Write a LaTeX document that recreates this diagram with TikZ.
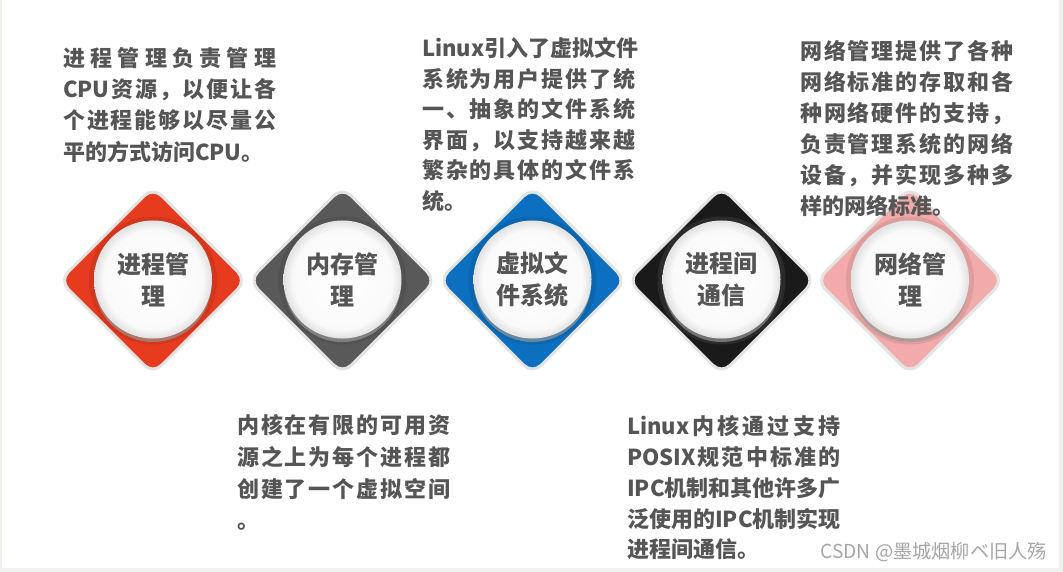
\documentclass[tikz,border=0pt]{standalone}
\usepackage{fontspec}
\newfontfamily\cjk{Noto Sans CJK SC}
\usetikzlibrary{shapes.geometric}
\definecolor{bgc}{HTML}{F0F0EC}
\definecolor{tx}{HTML}{555555}
\definecolor{lab}{HTML}{555555}
\definecolor{cred}{HTML}{E63B1F}
\definecolor{cgray}{HTML}{595959}
\definecolor{cblue}{HTML}{0C6FBF}
\definecolor{cblack}{HTML}{1A1A1A}
\definecolor{cpink}{HTML}{F2AAAA}
\definecolor{halo}{HTML}{E3E3E3}
\definecolor{wm}{HTML}{A6A6A6}
\definecolor{discedge}{HTML}{E4E4E4}
\pgfdeclareradialshading{discshade}{\pgfpoint{0bp}{0bp}}{color(0bp)=(white); color(21bp)=(white!98!black); color(24.5bp)=(discedge); color(50bp)=(discedge)}
\newlength\jw \setlength\jw{213pt}
\def\jlA#1{#1\futurelet\jlnext\jlB}
\def\jlB{\ifx\jlnext\relax\expandafter\jlEnd\else\hfil\expandafter\jlA\fi}
\def\jlEnd\relax{}
\newcommand\jl[1]{\hbox to\jw{\jlA#1\relax}}
\begin{document}
\begin{tikzpicture}[x=1pt,y=-1pt,
  blk/.style={font=\cjk\bfseries\fontsize{22}{#1}\selectfont, text=tx, anchor=north west, inner sep=0pt, align=left},
  dia/.style={diamond, aspect=1, minimum width=188pt, minimum height=188pt, inner sep=0pt, rounded corners=12pt, fill=#1, draw=halo, line width=3pt},
  glow/.style={circle, minimum size=128pt, inner sep=0pt, fill=#1, opacity=.08},
  shd/.style={circle, minimum size=117pt, inner sep=0pt, fill=black!40, opacity=.65},
  disc/.style={circle, minimum size=118pt, inner sep=0pt, shading=discshade, font=\cjk\bfseries\fontsize{24}{32}\selectfont, text=lab, align=center},
]
\useasboundingbox (0,0) rectangle (1063,572);
\fill[bgc] (0,0) rectangle (1063,572);
\fill[white] (2,0) rectangle (1059,567.5);

% diamonds
\node[dia=cred]   (d1) at (153,280.5) {};
\node[dia=cgray]  (d2) at (342.5,280.5) {};
\node[dia=cblue]  (d3) at (532.5,280.5) {};
\node[dia=cblack] (d4) at (721.5,280.5) {};
\node[dia=cpink]  (d5) at (910,280.5) {};

\node[glow=black] (g1) at (d1) {};
\node[glow=black] (g2) at (d2) {};
\node[glow=black] (g3) at (d3) {};
\node[glow=white] (g4) at (d4) {};
\node[glow=black] (g5) at (d5) {};

\node[shd] (s1) at ([yshift=-3pt]d1.center) {};
\node[shd] (s2) at ([yshift=-3pt]d2.center) {};
\node[shd] (s3) at ([yshift=-3pt]d3.center) {};
\node[shd] (s4) at ([yshift=-3pt]d4.center) {};
\node[shd] (s5) at ([yshift=-3pt]d5.center) {};

\node[disc] (c1) at ([yshift=1pt]d1.center) {进程管\\理};
\node[disc] (c2) at ([yshift=1pt]d2.center) {内存管\\理};
\node[disc] (c3) at ([yshift=1pt]d3.center) {虚拟文\\件系统};
\node[disc] (c4) at ([yshift=1pt]d4.center) {进程间\\通信};
\node[disc] (c5) at ([yshift=1pt]d5.center) {网络管\\理};

% text blocks
\node[blk=31.3] (t1) at (63,47) {\jl{进程管理负责管理}\\
\jl{{CPU}资源，以便让各}\\
\jl{个进程能够以尽量公}\\
平的方式访问CPU。};

\node[blk=30.5] (t2) at (422,37.5) {\jl{{Linux}引入了虚拟文件}\\
\jl{系统为用户提供了统}\\
\jl{一、抽象的文件系统}\\
\jl{界面，以支持越来越}\\
\jl{繁杂的具体的文件系}\\
统。};

\node[blk=31] (t3) at (800,40) {\jl{网络管理提供了各种}\\
\jl{网络标准的存取和各}\\
\jl{种网络硬件的支持，}\\
\jl{负责管理系统的网络}\\
\jl{设备，并实现多种多}\\
样的网络标准。};

\node[blk=31.7] (t4) at (237,414.5) {\jl{内核在有限的可用资}\\
\jl{源之上为每个进程都}\\
\jl{创建了一个虚拟空间}\\
。};

\node[blk=30.8] (t5) at (627,415.5) {\jl{{Linux}内核通过支持}\\
\jl{{POSIX}规范中标准的}\\
\jl{{IPC}机制和其他许多广}\\
\jl{泛使用的{IPC}机制实现}\\
进程间通信。};

\node[anchor=east, inner sep=0pt, font=\cjk\fontsize{19.2}{19.2}\selectfont, text=wm] (wm) at (1047,552) {CSDN @墨城烟柳ベ旧人殇};
\end{tikzpicture}
\end{document}
